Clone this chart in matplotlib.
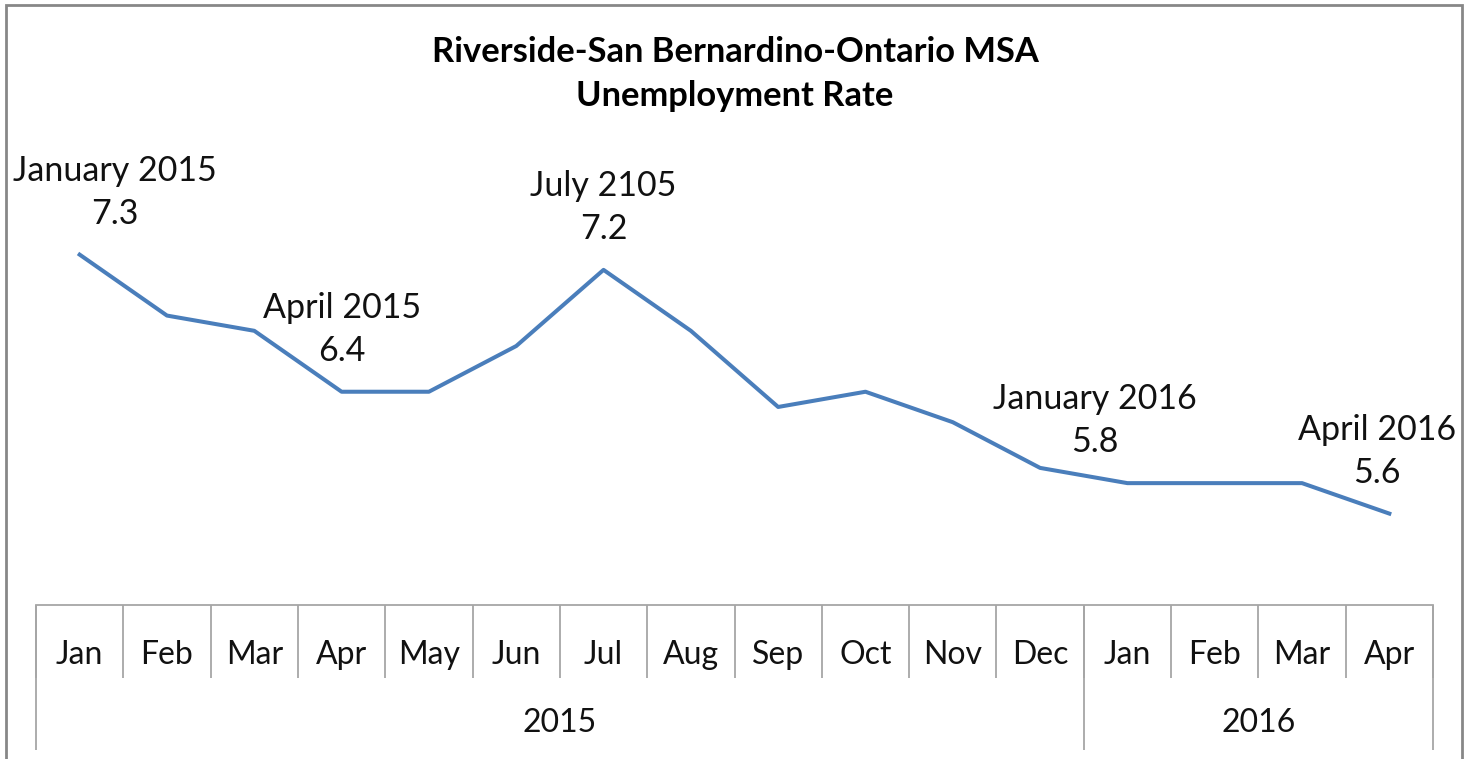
import matplotlib
matplotlib.use("Agg")
import matplotlib.pyplot as plt
from matplotlib.patches import Rectangle

# data
months = ["Jan", "Feb", "Mar", "Apr", "May", "Jun", "Jul", "Aug",
          "Sep", "Oct", "Nov", "Dec", "Jan", "Feb", "Mar", "Apr"]
rate = [7.3, 6.9, 6.8, 6.4, 6.4, 6.7, 7.2, 6.8,
        6.3, 6.4, 6.2, 5.9, 5.8, 5.8, 5.8, 5.6]
years = ["2015", "2016"]
year_counts = [12, 4]
callouts = {0: "January 2015", 3: "April 2015", 6: "July 2105",
            12: "January 2016", 15: "April 2016"}
# horizontal nudge (px) Excel applied to keep labels inside the chart
nudge = {0: 35, 3: 0, 6: 0, 12: -33, 15: -12}

plt.rcParams['font.family'] = ['Lato', 'DejaVu Sans']
W, H = 1472, 759
PT = 0.72  # points per pixel at dpi 100
fig = plt.figure(figsize=(W / 100, H / 100), dpi=100, facecolor='white')

# chart border (bottom edge runs off the image)
fig.patches.append(Rectangle((6 / W, -0.05), 1456 / W, 1.05 - 5 / H,
                             transform=fig.transFigure, fill=False,
                             edgecolor='#878787', lw=2))

ax_top, ax_bot = 148, 605
ax = fig.add_axes([36 / W, 1 - ax_bot / H, 1397 / W, (ax_bot - ax_top) / H])
x = list(range(len(rate)))
ax.plot(x, rate, color='#4A7EBB', lw=2.9, solid_joinstyle='round')
ax.set_xlim(-0.5, len(rate) - 0.5)
ax.set_ylim(5, 8)
ax.set_yticks([])
ax.set_xticks([])
for s in ['top', 'right', 'left']:
    ax.spines[s].set_visible(False)
ax.spines['bottom'].set_color('#A6A6A6')
ax.spines['bottom'].set_linewidth(1.3)

# labels for the highlighted months
for i, name in callouts.items():
    dx = nudge[i] * PT
    ax.annotate(name, (i, rate[i]), xytext=(dx, 84 * PT),
                textcoords='offset points', ha='center', va='center',
                fontsize=24.5, color='#111111', annotation_clip=False)
    ax.annotate(f"{rate[i]}", (i, rate[i]), xytext=(dx, 41 * PT),
                textcoords='offset points', ha='center', va='center',
                fontsize=24.5, color='#111111', annotation_clip=False)

# multi-level category axis
ah = ax_bot - ax_top
xt = ax.get_xaxis_transform()
bounds = [b - 0.5 for b in range(len(rate) + 1)]
ax.vlines(bounds, -73 / ah, 0, transform=xt, colors='#A6A6A6', lw=1.3, clip_on=False)
for i, m in enumerate(months):
    ax.text(i, -50 / ah, m, transform=xt, ha='center', va='center',
            fontsize=23, color='#111111')
start = 0
ax.vlines(-0.5, -145 / ah, 0, transform=xt, colors='#A6A6A6', lw=1.3, clip_on=False)
for y, n in zip(years, year_counts):
    end = start + n
    ax.vlines(end - 0.5, -145 / ah, 0, transform=xt, colors='#A6A6A6', lw=1.3, clip_on=False)
    ax.text((start + end - 1) / 2, -118 / ah, y, transform=xt, ha='center',
            va='center', fontsize=23, color='#111111')
    start = end

fig.text(735 / W, 1 - 74 / H, "Riverside-San Bernardino-Ontario MSA\nUnemployment Rate",
         ha='center', va='center', fontsize=24.8, fontweight='bold',
         linespacing=1.45, color='black')

fig.savefig("out.png", dpi=100)
